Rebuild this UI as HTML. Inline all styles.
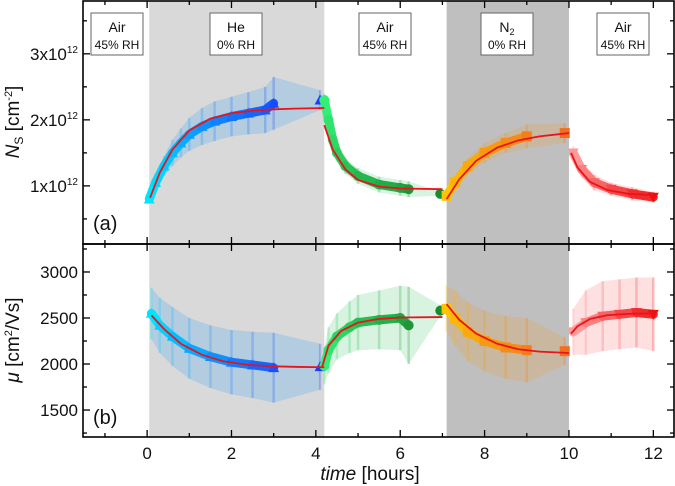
<!DOCTYPE html>
<html><head><meta charset="utf-8"><style>
html,body{margin:0;padding:0;background:#fff;}
svg{display:block;font-family:"Liberation Sans",Arial,sans-serif;}
</style></head><body>
<svg id="chart" width="675" height="486" viewBox="0 0 675 486"></svg>
<script>
// ---- data ----
const regionStarts=[-1.5,0.05,4.2,7.1,10.0];
const regionEnds=[0.05,4.2,7.1,10.0,12.5];
const regionGas=["Air","He","Air","N2","Air"];
const regionRH=["45% RH","0% RH","45% RH","0% RH","45% RH"];
const xTicks=[0,2,4,6,8,10,12];
const nsTicks=[1,2,3];
const muTicks=[1500,2000,2500,3000];
// Ns series (x1e12 cm^-2)
const ns1T=[0.05,0.2,0.4,0.6,0.8,1.0,1.3,1.6,2.0,2.4,2.8,3.0,4.1];
const ns1V=[0.8,1.05,1.3,1.5,1.65,1.78,1.9,1.98,2.05,2.1,2.15,2.25,2.3];
const ns1E=[0.05,0.1,0.15,0.2,0.22,0.25,0.28,0.3,0.3,0.32,0.35,0.4,0.15];
const ns2T=[4.2,4.3,4.4,4.5,4.7,5.0,5.5,6.0,6.2,6.95];
const ns2V=[2.3,2.0,1.7,1.5,1.3,1.15,1.02,0.97,0.95,0.88];
const ns2E=[0.1,0.12,0.12,0.12,0.12,0.12,0.12,0.12,0.12,0.03];
const ns3T=[7.1,7.3,7.6,8.0,8.5,9.0,9.9];
const ns3V=[0.85,1.05,1.3,1.5,1.65,1.75,1.8];
const ns3E=[0.05,0.1,0.12,0.15,0.15,0.18,0.15];
const ns4T=[10.1,10.3,10.6,11.0,11.5,12.0];
const ns4V=[1.5,1.25,1.05,0.95,0.88,0.83];
const ns4E=[0.1,0.12,0.12,0.1,0.1,0.08];
const nsFitT=[[0.07,0.3,0.6,1.0,1.5,2.0,2.5,3.0,3.5,4.2],[4.2,4.4,4.7,5.0,5.5,6.0,7.0],[7.1,7.4,7.8,8.3,8.8,9.3,10.0],[10.05,10.2,10.5,10.9,11.4,12.0]];
const nsFitV=[[0.82,1.2,1.55,1.84,2.02,2.1,2.14,2.16,2.17,2.18],[1.92,1.55,1.25,1.09,0.99,0.96,0.95],[0.8,1.1,1.38,1.58,1.69,1.75,1.8],[1.5,1.28,1.06,0.94,0.88,0.86]];
// mobility series (cm^2/Vs)
const mu1T=[0.1,0.3,0.6,1.0,1.5,2.0,2.5,3.0,4.1];
const mu1V=[2550,2420,2300,2170,2080,2020,1990,1960,1970];
const mu1E=[280,300,320,330,340,350,360,380,250];
const mu2T=[4.2,4.3,4.5,4.8,5.0,5.5,6.0,6.2,6.95];
const mu2V=[1980,2150,2300,2400,2450,2480,2500,2420,2580];
const mu2E=[200,250,250,280,300,320,350,420,60];
const mu3T=[7.1,7.3,7.6,8.0,8.5,9.0,9.9];
const mu3V=[2600,2500,2350,2250,2180,2150,2140];
const mu3E=[250,300,320,330,340,350,150];
const mu4T=[10.1,10.4,10.8,11.2,11.6,12.0];
const mu4V=[2350,2450,2520,2540,2560,2540];
const mu4E=[250,350,380,380,380,400];
const muFitT=[[0.1,0.4,0.8,1.3,1.8,2.4,3.0,3.6,4.2],[4.15,4.3,4.6,5.0,5.5,6.0,7.0],[7.1,7.4,7.8,8.3,8.8,9.3,10.0],[10.05,10.2,10.5,10.9,11.4,12.0]];
const muFitV=[[2530,2380,2220,2100,2030,1990,1975,1968,1965],[1970,2200,2360,2450,2490,2505,2510],[2650,2480,2330,2220,2160,2135,2120],[2330,2410,2490,2530,2545,2550]];

// ---- layout ----
const L=83,R=674,T1=1,B1=244,T2=244,B2=437;
const XMIN=-1.52,XMAX=12.49;
const NSMIN=0.12,NSMAX=3.8,MUMIN=1207,MUMAX=3304;
const sx=t=>L+(t-XMIN)/(XMAX-XMIN)*(R-L);
const sy1=v=>B1-(v-NSMIN)/(NSMAX-NSMIN)*(B1-T1);
const sy2=v=>B2-(v-MUMIN)/(MUMAX-MUMIN)*(B2-T2);
const svg=document.getElementById('chart');
const NS='http://www.w3.org/2000/svg';
function mk(tag,attrs,parent){const e=document.createElementNS(NS,tag);for(const k in attrs)e.setAttribute(k,attrs[k]);(parent||svg).appendChild(e);return e;}

const regionFill=["none","#d9d9d9","none","#bfbfbf","none"];
for(let i=0;i<regionStarts.length;i++){
  if(regionFill[i]==="none")continue;
  const r=mk('rect',{x:sx(regionStarts[i]),y:T1,width:sx(regionEnds[i])-sx(regionStarts[i]),height:B2-T1,fill:regionFill[i]});
  
  
}

function lerpColor(a,b,f){const pa=a.match(/\w\w/g).map(h=>parseInt(h,16)),pb=b.match(/\w\w/g).map(h=>parseInt(h,16));return 'rgb('+pa.map((v,i)=>Math.round(v+(pb[i]-v)*f)).join(',')+')';}
function marker(shape,x,y,c,g){
  const s=5.5;
  if(shape==='tri')return mk('polygon',{points:`${x},${y-s} ${x-s},${y+s*0.8} ${x+s},${y+s*0.8}`,fill:c},g);
  if(shape==='dtri')return mk('polygon',{points:`${x},${y+s} ${x-s},${y-s*0.8} ${x+s},${y-s*0.8}`,fill:c},g);
  if(shape==='sq')return mk('rect',{x:x-5,y:y-5,width:10,height:10,fill:c},g);
  return mk('circle',{cx:x,cy:y,r:5,fill:c},g);
}
function series(name,T,V,E,sy,shape,c0,c1){
  const g=mk('g',{});
  
  
  let up=T.map((t,i)=>sx(t)+','+sy(V[i]+E[i])).join(' ');
  let dn=T.slice().reverse().map((t,j)=>{const i=T.length-1-j;return sx(t)+','+sy(V[i]-E[i]);}).join(' ');
  const last=T.length-1;
  const band=mk('polygon',{points:up+' '+dn,fill:lerpColor(c0,c1,0.5),opacity:0.18},g);
  
  for(let i=0;i<T.length;i++){
    const c=lerpColor(c0,c1,i/Math.max(1,last));
    mk('line',{x1:sx(T[i]),x2:sx(T[i]),y1:sy(V[i]+E[i]),y2:sy(V[i]-E[i]),stroke:c,'stroke-width':2.5,opacity:0.25},g);
  }
  for(let i=0;i<last;i++){
    if(T[i+1]-T[i]>0.6)continue;
    mk('line',{x1:sx(T[i]),y1:sy(V[i]),x2:sx(T[i+1]),y2:sy(V[i+1]),stroke:lerpColor(c0,c1,i/Math.max(1,last)),'stroke-width':9,'stroke-linecap':'round'},g);
  }
  for(let i=0;i<T.length;i++){
    const m=marker(shape,sx(T[i]),sy(V[i]),lerpColor(c0,c1,i/Math.max(1,last)),g);
    
    
  }
}
series('ns-he',ns1T,ns1V,ns1E,sy1,'tri','00e5ff','1a3cff');
series('ns-air-1',ns2T,ns2V,ns2E,sy1,'circ','33ee77','1a8a30');
series('ns-n2',ns3T,ns3V,ns3E,sy1,'sq','ffc400','f07020');
series('ns-air-2',ns4T,ns4V,ns4E,sy1,'dtri','ff9a9a','ee1010');
series('mu-he',mu1T,mu1V,mu1E,sy2,'tri','00e5ff','1a3cff');
series('mu-air-1',mu2T,mu2V,mu2E,sy2,'circ','33ee77','1a8a30');
series('mu-n2',mu3T,mu3V,mu3E,sy2,'sq','ffc400','f07020');
series('mu-air-2',mu4T,mu4V,mu4E,sy2,'dtri','ff9a9a','ee1010');

function fits(TT,VV,sy,nm){
  TT.forEach((T,k)=>{
    const p=mk('polyline',{points:T.map((t,i)=>sx(t)+','+sy(VV[k][i])).join(' '),fill:'none',stroke:'#e8141c','stroke-width':1.8});
    
    
  });
}
fits(nsFitT,nsFitV,sy1,'ns');
fits(muFitT,muFitV,sy2,'mu');

[[T1,B1,'top-panel-frame'],[T2,B2,'bottom-panel-frame']].forEach(([a,b,n])=>{
  const r=mk('rect',{x:L,y:a,width:R-L,height:b-a,fill:'none',stroke:'#000','stroke-width':1.6});
  
});
for(let t=-1;t<=12;t++){
  const major=t%2===0, len=major?7:4, x=sx(t);
  [[T1,1],[B1,-1],[T2,1],[B2,-1]].forEach(([y,d])=>mk('line',{x1:x,x2:x,y1:y,y2:y+d*len,stroke:'#000','stroke-width':1.3}));
}
xTicks.forEach(t=>{const e=mk('text',{x:sx(t),y:459,'text-anchor':'middle','font-size':17,fill:'#111'});e.textContent=t;});
for(let v=0.5;v<=3.5;v+=0.5){const y=sy1(v),len=(v%1===0)?7:4;
  mk('line',{x1:L,x2:L+len,y1:y,y2:y,stroke:'#000','stroke-width':1.3});mk('line',{x1:R,x2:R-len,y1:y,y2:y,stroke:'#000','stroke-width':1.3});}
nsTicks.forEach(v=>{const e=mk('text',{x:78,y:sy1(v)+6,'text-anchor':'end','font-size':17,fill:'#111'});
  e.innerHTML=v+'x10<tspan font-size="10" dy="-7">12</tspan>';});
for(let v=1250;v<=3250;v+=250){const y=sy2(v),len=(v%500===0)?7:4;
  mk('line',{x1:L,x2:L+len,y1:y,y2:y,stroke:'#000','stroke-width':1.3});mk('line',{x1:R,x2:R-len,y1:y,y2:y,stroke:'#000','stroke-width':1.3});}
muTicks.forEach(v=>{const e=mk('text',{x:78,y:sy2(v)+6,'text-anchor':'end','font-size':17,fill:'#111'});e.textContent=v;});
let e=mk('text',{transform:'translate(19,122) rotate(-90)','text-anchor':'middle','font-size':19,fill:'#111'});
e.innerHTML='<tspan font-style="italic">N</tspan><tspan font-size="12" dy="4">S</tspan><tspan dy="-4"> [cm</tspan><tspan font-size="11" dy="-7">-2</tspan><tspan dy="7">]</tspan>';

e=mk('text',{transform:'translate(19,340) rotate(-90)','text-anchor':'middle','font-size':19,fill:'#111'});
e.innerHTML='<tspan font-style="italic">μ</tspan> [cm<tspan font-size="11" dy="-7">2</tspan><tspan dy="7">/Vs]</tspan>';

e=mk('text',{x:370,y:480,'text-anchor':'middle','font-size':19,fill:'#111'});
e.innerHTML='<tspan font-style="italic">time</tspan> [hours]';

e=mk('text',{x:93,y:230,'font-size':20,fill:'#111'});e.textContent='(a)';
e=mk('text',{x:93,y:424,'font-size':20,fill:'#111'});e.textContent='(b)';
const boxCx=[117,236,385,507,623];
for(let i=0;i<5;i++){
  const g=mk('g',{});
  
  
  mk('rect',{x:boxCx[i]-26,y:13,width:52,height:42,fill:'#fff',stroke:'#666','stroke-width':1},g);
  const t1=mk('text',{x:boxCx[i],y:32,'text-anchor':'middle','font-size':14,fill:'#111'},g);
  if(regionGas[i]==='N2')t1.innerHTML='N<tspan font-size="9" dy="3">2</tspan>';else t1.textContent=regionGas[i];
  const t2=mk('text',{x:boxCx[i],y:49,'text-anchor':'middle','font-size':12,fill:'#111'},g);t2.textContent=regionRH[i];
}
</script>
</body></html>
